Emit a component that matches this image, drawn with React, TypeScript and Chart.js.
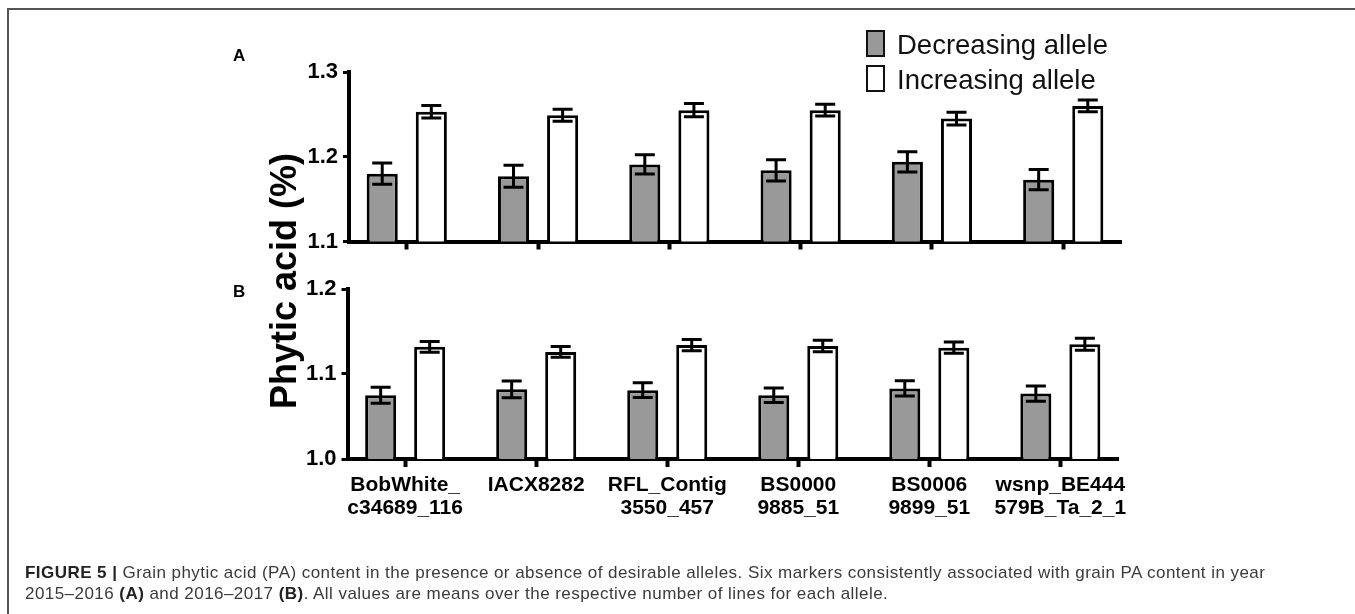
import React, { useEffect, useRef } from "react";
import { Chart, registerables } from "chart.js";

Chart.register(...registerables);

// ---------- data ----------
const categories: string[][] = [
  ["BobWhite_", "c34689_116"],
  ["IACX8282"],
  ["RFL_Contig", "3550_457"],
  ["BS0000", "9885_51"],
  ["BS0006", "9899_51"],
  ["wsnp_BE444", "579B_Ta_2_1"],
];
const seriesLabels = ["Decreasing allele", "Increasing allele"];

// Panel A (2015–2016)
const decreasingA = [1.180, 1.177, 1.191, 1.184, 1.194, 1.173];
const decreasingAErr = [0.0125, 0.013, 0.0114, 0.0126, 0.012, 0.012];
const increasingA = [1.253, 1.249, 1.255, 1.255, 1.245, 1.260];
const increasingAErr = [0.0074, 0.007, 0.0078, 0.007, 0.0074, 0.007];
const yTicksA = [1.1, 1.2, 1.3];

// Panel B (2016–2017)
const decreasingB = [1.075, 1.082, 1.081, 1.075, 1.083, 1.077];
const decreasingBErr = [0.0094, 0.0098, 0.0086, 0.0086, 0.009, 0.009];
const increasingB = [1.132, 1.126, 1.134, 1.133, 1.131, 1.135];
const increasingBErr = [0.0063, 0.0063, 0.0067, 0.0067, 0.0066, 0.007];
const yTicksB = [1.0, 1.1, 1.2];

const FONT = "'Liberation Sans', Arial, Helvetica, sans-serif";
const GRAY = "#999999";

// ---------- plugins ----------
const errorBarPlugin = {
  id: "errorBars",
  afterDatasetsDraw(chart: any) {
    const { ctx } = chart;
    const yScale = chart.scales.y;
    chart.data.datasets.forEach((ds: any, di: number) => {
      const meta = chart.getDatasetMeta(di);
      meta.data.forEach((bar: any, i: number) => {
        const v = ds.data[i].y;
        const e = ds.errors[i];
        const x = bar.x;
        const top = yScale.getPixelForValue(v + e);
        const bot = yScale.getPixelForValue(v - e);
        ctx.save();
        ctx.strokeStyle = "#000";
        ctx.lineWidth = 3;
        ctx.beginPath();
        ctx.moveTo(x, top);
        ctx.lineTo(x, bot);
        ctx.moveTo(x - 10, top);
        ctx.lineTo(x + 10, top);
        ctx.moveTo(x - 10, bot);
        ctx.lineTo(x + 10, bot);
        ctx.stroke();
        ctx.restore();
      });
    });
  },
};

const boxLegendPlugin = {
  id: "boxLegend",
  afterDraw(chart: any) {
    const { ctx } = chart;
    chart.data.datasets.forEach((ds: any, i: number) => {
      const top = 30 + i * 35;
      ctx.save();
      ctx.fillStyle = ds.backgroundColor;
      ctx.fillRect(866, top, 19, 27);
      ctx.strokeStyle = "#111";
      ctx.lineWidth = 2;
      ctx.strokeRect(867, top + 1, 17, 25);
      ctx.font = `27.5px ${FONT}`;
      ctx.fillStyle = "#111";
      ctx.textBaseline = "alphabetic";
      ctx.textAlign = "left";
      ctx.fillText(ds.label, 897, top + 23.5);
      ctx.restore();
    });
  },
};

function makeConfig(opts: {
  dec: number[];
  decErr: number[];
  inc: number[];
  incErr: number[];
  yMin: number;
  yMax: number;
  yTicks: number[];
  showLabels: boolean;
  padding: { left: number; top: number; right: number; bottom: number };
  xAxisH: number;
  yAxisW: number;
  plugins: any[];
}): any {
  const toPts = (arr: number[]) => arr.map((v, i) => ({ x: i, y: v }));
  return {
    type: "bar",
    data: {
      datasets: [
        {
          label: seriesLabels[0],
          data: toPts(opts.dec),
          errors: opts.decErr,
          backgroundColor: GRAY,
          borderColor: "#000",
          borderWidth: 3,
          borderSkipped: "start",
          categoryPercentage: 0.748,
          barPercentage: 0.633,
        },
        {
          label: seriesLabels[1],
          data: toPts(opts.inc),
          errors: opts.incErr,
          backgroundColor: "#ffffff",
          borderColor: "#000",
          borderWidth: 3,
          borderSkipped: "start",
          categoryPercentage: 0.748,
          barPercentage: 0.633,
        },
      ],
    },
    options: {
      responsive: false,
      animation: false,
      events: [],
      layout: { padding: opts.padding },
      plugins: {
        legend: { display: false },
        tooltip: { enabled: false },
        title: { display: false },
      },
      scales: {
        x: {
          type: "linear",
          min: -0.44,
          max: 5.44,
          offset: false,
          afterBuildTicks: (s: any) => {
            s.ticks = categories.map((_, i) => ({ value: i }));
          },
          afterFit: (s: any) => {
            s.height = opts.xAxisH;
          },
          ticks: {
            autoSkip: false,
            maxRotation: 0,
            minRotation: 0,
            padding: 7,
            color: "#000",
            font: { family: FONT, size: 21, weight: "bold", lineHeight: 1.1 },
            callback: (_v: any, idx: number) => (opts.showLabels ? categories[idx] : ""),
          },
          grid: {
            offset: false,
            drawOnChartArea: false,
            drawTicks: true,
            tickLength: 8,
            tickWidth: 4,
            tickColor: "#000",
          },
          border: { display: true, color: "#000", width: 4 },
        },
        y: {
          type: "linear",
          min: opts.yMin,
          max: opts.yMax,
          afterBuildTicks: (s: any) => {
            s.ticks = opts.yTicks.map((v) => ({ value: v }));
          },
          afterFit: (s: any) => {
            s.width = opts.yAxisW;
          },
          ticks: {
            padding: 5,
            color: "#000",
            font: { family: FONT, size: 22, weight: "bold" },
            callback: (v: any) => Number(v).toFixed(1),
          },
          grid: {
            drawOnChartArea: false,
            drawTicks: true,
            tickLength: 6,
            tickWidth: 3,
            tickColor: "#000",
          },
          border: { display: true, color: "#000", width: 4 },
        },
      },
    },
    plugins: opts.plugins,
  };
}

export default function App() {
  const refA = useRef<HTMLCanvasElement | null>(null);
  const refB = useRef<HTMLCanvasElement | null>(null);

  useEffect(() => {
    if (!refA.current || !refB.current) return;
    const chartA = new Chart(
      refA.current,
      makeConfig({
        dec: decreasingA,
        decErr: decreasingAErr,
        inc: increasingA,
        incErr: increasingAErr,
        yMin: yTicksA[0],
        yMax: yTicksA[yTicksA.length - 1],
        yTicks: yTicksA,
        showLabels: false,
        padding: { left: 0, top: 72, right: 234, bottom: 18.5 },
        xAxisH: 10,
        yAxisW: 349,
        plugins: [errorBarPlugin, boxLegendPlugin],
      })
    );
    const chartB = new Chart(
      refB.current,
      makeConfig({
        dec: decreasingB,
        decErr: decreasingBErr,
        inc: increasingB,
        incErr: increasingBErr,
        yMin: yTicksB[0],
        yMax: yTicksB[yTicksB.length - 1],
        yTicks: yTicksB,
        showLabels: true,
        padding: { left: 0, top: 19, right: 237, bottom: 85 },
        xAxisH: 70,
        yAxisW: 347.5,
        plugins: [errorBarPlugin],
      })
    );
    return () => {
      chartA.destroy();
      chartB.destroy();
    };
  }, []);

  return (
    <div
      style={{
        position: "fixed",
        left: 0,
        top: 0,
        width: 1355,
        height: 614,
        background: "#fff",
        overflow: "hidden",
      }}
    >
      <div
        style={{
          position: "absolute",
          left: 7,
          top: 8,
          width: 1400,
          height: 700,
          borderLeft: "2px solid #555",
          borderTop: "2px solid #555",
        }}
      />
      <canvas
        ref={refA}
        width={1355}
        height={270}
        style={{ position: "absolute", left: 0, top: 0, width: 1355, height: 270 }}
      />
      <canvas
        ref={refB}
        width={1355}
        height={344}
        style={{ position: "absolute", left: 0, top: 270, width: 1355, height: 344 }}
      />
      <div
        style={{
          position: "absolute",
          left: 233,
          top: 46,
          fontFamily: FONT,
          fontWeight: "bold",
          fontSize: 17,
          lineHeight: "20px",
          color: "#000",
        }}
      >
        A
      </div>
      <div
        style={{
          position: "absolute",
          left: 233,
          top: 282,
          fontFamily: FONT,
          fontWeight: "bold",
          fontSize: 17,
          lineHeight: "20px",
          color: "#000",
        }}
      >
        B
      </div>
      <div
        style={{
          position: "absolute",
          left: 284,
          top: 281,
          transform: "translate(-50%, -50%) rotate(-90deg)",
          fontFamily: FONT,
          fontWeight: "bold",
          fontSize: 36,
          lineHeight: "36px",
          whiteSpace: "nowrap",
          color: "#000",
        }}
      >
        Phytic acid (%)
      </div>
      <div
        style={{
          position: "absolute",
          left: 25,
          top: 562,
          fontFamily: FONT,
          fontSize: 17,
          letterSpacing: "0.45px",
          lineHeight: "21px",
          color: "#3a3a3a",
          whiteSpace: "nowrap",
        }}
      >
        <b style={{ color: "#222" }}>FIGURE 5 |</b> Grain phytic acid (PA) content in the presence or
        absence of desirable alleles. Six markers consistently associated with grain PA content in year
        <br />
        2015–2016 <b style={{ color: "#222" }}>(A)</b> and 2016–2017{" "}
        <b style={{ color: "#222" }}>(B)</b>. All values are means over the respective number of lines
        for each allele.
      </div>
    </div>
  );
}
